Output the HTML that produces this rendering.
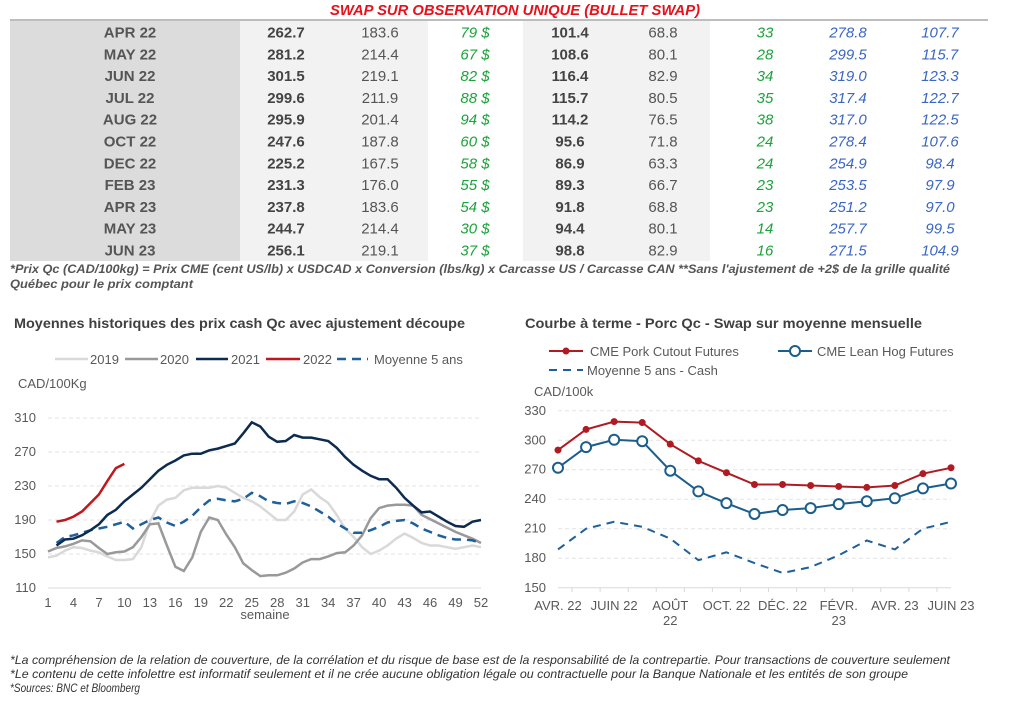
<!DOCTYPE html>
<html><head><meta charset="utf-8"><style>
html,body{margin:0;padding:0;background:#fff;}
svg{display:block;font-family:"Liberation Sans",sans-serif;}
</style></head><body>
<svg id="s" width="1024" height="710" viewBox="0 0 1024 710" xmlns="http://www.w3.org/2000/svg">
<rect width="1024" height="710" fill="#fff"/>
<text x="515" y="15" text-anchor="middle" font-size="15" font-weight="bold" font-style="italic" fill="#e8101a" textLength="370" lengthAdjust="spacingAndGlyphs">SWAP SUR OBSERVATION UNIQUE (BULLET SWAP)</text>
<line x1="10" y1="20" x2="988" y2="20" stroke="#bdbdbd" stroke-width="2"/>
<rect x="10" y="21" width="230" height="240" fill="#dcdcdc"/>
<rect x="240" y="21" width="188" height="240" fill="#f2f2f2"/>
<rect x="523" y="21" width="187" height="240" fill="#f2f2f2"/>
<g id="tbl" font-size="15"></g>
<text x="10" y="273" font-size="12" font-style="italic" font-weight="bold" fill="#555" textLength="940" lengthAdjust="spacingAndGlyphs">*Prix Qc (CAD/100kg) = Prix CME (cent US/lb) x USDCAD x Conversion (lbs/kg) x Carcasse US / Carcasse CAN **Sans l'ajustement de +2$ de la grille qualité</text>
<text x="10" y="288" font-size="12" font-style="italic" font-weight="bold" fill="#555" textLength="183" lengthAdjust="spacingAndGlyphs">Québec pour le prix comptant</text>
<text x="14" y="328" font-size="14" font-weight="bold" fill="#404040" textLength="451" lengthAdjust="spacingAndGlyphs">Moyennes historiques des prix cash Qc avec ajustement découpe</text>
<text x="525" y="328" font-size="14" font-weight="bold" fill="#404040" textLength="397" lengthAdjust="spacingAndGlyphs">Courbe à terme - Porc Qc - Swap sur moyenne mensuelle</text>
<g id="c1" font-size="13" fill="#595959"></g>
<g id="c2" font-size="13" fill="#595959"></g>
<g font-size="12" font-style="italic" fill="#333">
<text x="10" y="664" textLength="940" lengthAdjust="spacingAndGlyphs">*La compréhension de la relation de couverture, de la corrélation et du risque de base est de la responsabilité de la contrepartie. Pour transactions de couverture seulement</text>
<text x="10" y="678" textLength="898" lengthAdjust="spacingAndGlyphs">*Le contenu de cette infolettre est informatif seulement et il ne crée aucune obligation légale ou contractuelle pour la Banque Nationale et les entités de son groupe</text>
<text x="10" y="692" textLength="130" lengthAdjust="spacingAndGlyphs">*Sources: BNC et Bloomberg</text>
</g>
</svg>
<script>
var NS="http://www.w3.org/2000/svg";
function el(p,t,a,txt){var e=document.createElementNS(NS,t);for(var k in a)e.setAttribute(k,a[k]);if(txt!=null)e.textContent=txt;p.appendChild(e);return e;}
var rows=[["APR 22","262.7","183.6","79 $","101.4","68.8","33","278.8","107.7"],
["MAY 22","281.2","214.4","67 $","108.6","80.1","28","299.5","115.7"],
["JUN 22","301.5","219.1","82 $","116.4","82.9","34","319.0","123.3"],
["JUL 22","299.6","211.9","88 $","115.7","80.5","35","317.4","122.7"],
["AUG 22","295.9","201.4","94 $","114.2","76.5","38","317.0","122.5"],
["OCT 22","247.6","187.8","60 $","95.6","71.8","24","278.4","107.6"],
["DEC 22","225.2","167.5","58 $","86.9","63.3","24","254.9","98.4"],
["FEB 23","231.3","176.0","55 $","89.3","66.7","23","253.5","97.9"],
["APR 23","237.8","183.6","54 $","91.8","68.8","23","251.2","97.0"],
["MAY 23","244.7","214.4","30 $","94.4","80.1","14","257.7","99.5"],
["JUN 23","256.1","219.1","37 $","98.8","82.9","16","271.5","104.9"]];
var cx=[130,286,380,475,570,663,765,848,940];
var sty=[["#555","bold","normal"],["#444","bold","normal"],["#555","normal","normal"],["#1aa33a","normal","italic"],["#444","bold","normal"],["#555","normal","normal"],["#1aa33a","normal","italic"],["#3a66c4","normal","italic"],["#3a66c4","normal","italic"]];
var tb=document.getElementById("tbl");
rows.forEach(function(r,i){var y=37.5+i*21.8;r.forEach(function(v,j){el(tb,"text",{x:cx[j],y:y,"text-anchor":"middle",fill:sty[j][0],"font-weight":sty[j][1],"font-style":sty[j][2]},v);});});

var c1=document.getElementById("c1");
function X1(w){return 48+(w-1)*(433/51);}function Y1(v){return 588-(v-110)*0.85;}
[310,270,230,190,150].forEach(function(v){el(c1,"line",{x1:48,x2:481,y1:Y1(v),y2:Y1(v),stroke:"#e3e3e3","stroke-dasharray":"4,3"});el(c1,"text",{x:36,y:Y1(v)+4,"text-anchor":"end"},v);});
el(c1,"line",{x1:48,x2:481,y1:588,y2:588,stroke:"#d9d9d9"});
el(c1,"text",{x:36,y:592,"text-anchor":"end"},"110");
for(var w=1;w<=52;w+=3){el(c1,"text",{x:X1(w),y:607,"text-anchor":"middle"},w);}
el(c1,"text",{x:265,y:619,"text-anchor":"middle"},"semaine");
el(c1,"text",{x:18,y:388},"CAD/100Kg");
var d19=[146,148,154,158,157,154,152,147,143,143,144,158,188,207,214,216,225,228,228,228,230,228,222,216,212,206,198,190,190,200,220,226,217,210,196,180,170,158,150,154,160,168,174,169,163,160,160,158,156,158,160,158];
var d20=[153,157,159,162,166,165,157,150,152,153,158,170,185,186,160,135,130,146,176,193,190,173,158,139,131,124,125,125,128,133,140,144,144,147,151,152,160,172,192,204,207,208,208,207,196,191,186,181,176,172,168,163];
var d21=[null,160,167,168,172,178,185,196,202,212,220,228,238,248,255,260,266,268,268,272,274,277,280,292,305,300,288,282,283,290,287,287,285,283,275,264,255,248,242,238,238,228,216,207,199,200,194,188,183,182,188,190];
var d22=[null,188,190,194,200,210,220,236,251,256];
var d5=[null,163,170,172,175,178,180,182,185,188,180,185,190,193,187,183,188,195,205,213,215,213,212,215,222,218,212,210,209,212,210,206,200,194,186,180,175,175,178,182,187,189,190,186,180,176,172,169,167,167,166,163];
function pts(d,X,Y){var s=[];d.forEach(function(v,i){if(v!=null)s.push(X(i+1).toFixed(1)+","+Y(v).toFixed(1));});return s.join(" ");}
el(c1,"polyline",{points:pts(d19,X1,Y1),fill:"none",stroke:"#d9d9d9","stroke-width":2.5});
el(c1,"polyline",{points:pts(d20,X1,Y1),fill:"none",stroke:"#999","stroke-width":2.5});
el(c1,"polyline",{points:pts(d5,X1,Y1),fill:"none",stroke:"#1f5f9a","stroke-width":2.5,"stroke-dasharray":"9,6"});
el(c1,"polyline",{points:pts(d21,X1,Y1),fill:"none",stroke:"#0d2b4e","stroke-width":2.5});
el(c1,"polyline",{points:pts(d22,X1,Y1),fill:"none",stroke:"#c0171d","stroke-width":2.5});
var lg=[[55,88,"#d9d9d9","2019",90,0],[125,158,"#999","2020",160,0],[196,228,"#0d2b4e","2021",231,0],[266,300,"#c0171d","2022",303,0],[337,368,"#1f5f9a","Moyenne 5 ans",374,1]];
lg.forEach(function(l){var a={x1:l[0],x2:l[1],y1:359,y2:359,stroke:l[2],"stroke-width":2.5};if(l[5])a["stroke-dasharray"]="9,6";el(c1,"line",a);el(c1,"text",{x:l[4],y:364},l[3]);});

var c2=document.getElementById("c2");
function X2(i){return 558+(i-1)*(393/14);}function Y2(v){return 587.7-(v-150)*0.983;}
[330,300,270,240,210,180].forEach(function(v){el(c2,"line",{x1:558,x2:951,y1:Y2(v),y2:Y2(v),stroke:"#e3e3e3","stroke-dasharray":"4,3"});el(c2,"text",{x:546,y:Y2(v)+4,"text-anchor":"end"},v);});
el(c2,"line",{x1:558,x2:951,y1:587.7,y2:587.7,stroke:"#d9d9d9"});
el(c2,"text",{x:546,y:592,"text-anchor":"end"},"150");
for(var i=0;i<15;i++){var xx=558+i*(393/14)+(393/28);if(xx<952)el(c2,"line",{x1:xx,x2:xx,y1:588,y2:592,stroke:"#d9d9d9"});}
var xl=[[1,"AVR. 22"],[3,"JUIN 22"],[5,"AOÛT"],[7,"OCT. 22"],[9,"DÉC. 22"],[11,"FÉVR."],[13,"AVR. 23"],[15,"JUIN 23"]];
xl.forEach(function(l){el(c2,"text",{x:X2(l[0]),y:610,"text-anchor":"middle"},l[1]);});
el(c2,"text",{x:X2(5),y:625,"text-anchor":"middle"},"22");
el(c2,"text",{x:X2(11),y:625,"text-anchor":"middle"},"23");
el(c2,"text",{x:534,y:396},"CAD/100k");
var pk=[290,311,319,318,296,279,267,255,255,254,253,252,254,266,272];
var lh=[272,293,300.5,299,269,248,236,225,229,231,235,238,241,251,256];
var mc=[189,210,217,212,200,178,186,175,165,171,183,198,189,210,217];
el(c2,"polyline",{points:pts(mc,X2,Y2),fill:"none",stroke:"#1f5f9a","stroke-width":2,"stroke-dasharray":"8,6"});
el(c2,"polyline",{points:pts(pk,X2,Y2),fill:"none",stroke:"#b01a22","stroke-width":2});
pk.forEach(function(v,i){el(c2,"circle",{cx:X2(i+1),cy:Y2(v),r:3.5,fill:"#b01a22"});});
el(c2,"polyline",{points:pts(lh,X2,Y2),fill:"none",stroke:"#1b5e8c","stroke-width":2});
lh.forEach(function(v,i){el(c2,"circle",{cx:X2(i+1),cy:Y2(v),r:5,fill:"#fff",stroke:"#1b5e8c","stroke-width":2});});
el(c2,"line",{x1:549,x2:583,y1:351,y2:351,stroke:"#b01a22","stroke-width":2});el(c2,"circle",{cx:566,cy:351,r:3.5,fill:"#b01a22"});
el(c2,"text",{x:590,y:356},"CME Pork Cutout Futures");
el(c2,"line",{x1:778,x2:812,y1:351,y2:351,stroke:"#1b5e8c","stroke-width":2});el(c2,"circle",{cx:795,cy:351,r:5,fill:"#fff",stroke:"#1b5e8c","stroke-width":2});
el(c2,"text",{x:817,y:356},"CME Lean Hog Futures");
el(c2,"line",{x1:549,x2:583,y1:370,y2:370,stroke:"#1f5f9a","stroke-width":2,"stroke-dasharray":"8,6"});
el(c2,"text",{x:587,y:375},"Moyenne 5 ans - Cash");
</script>
</body></html>
